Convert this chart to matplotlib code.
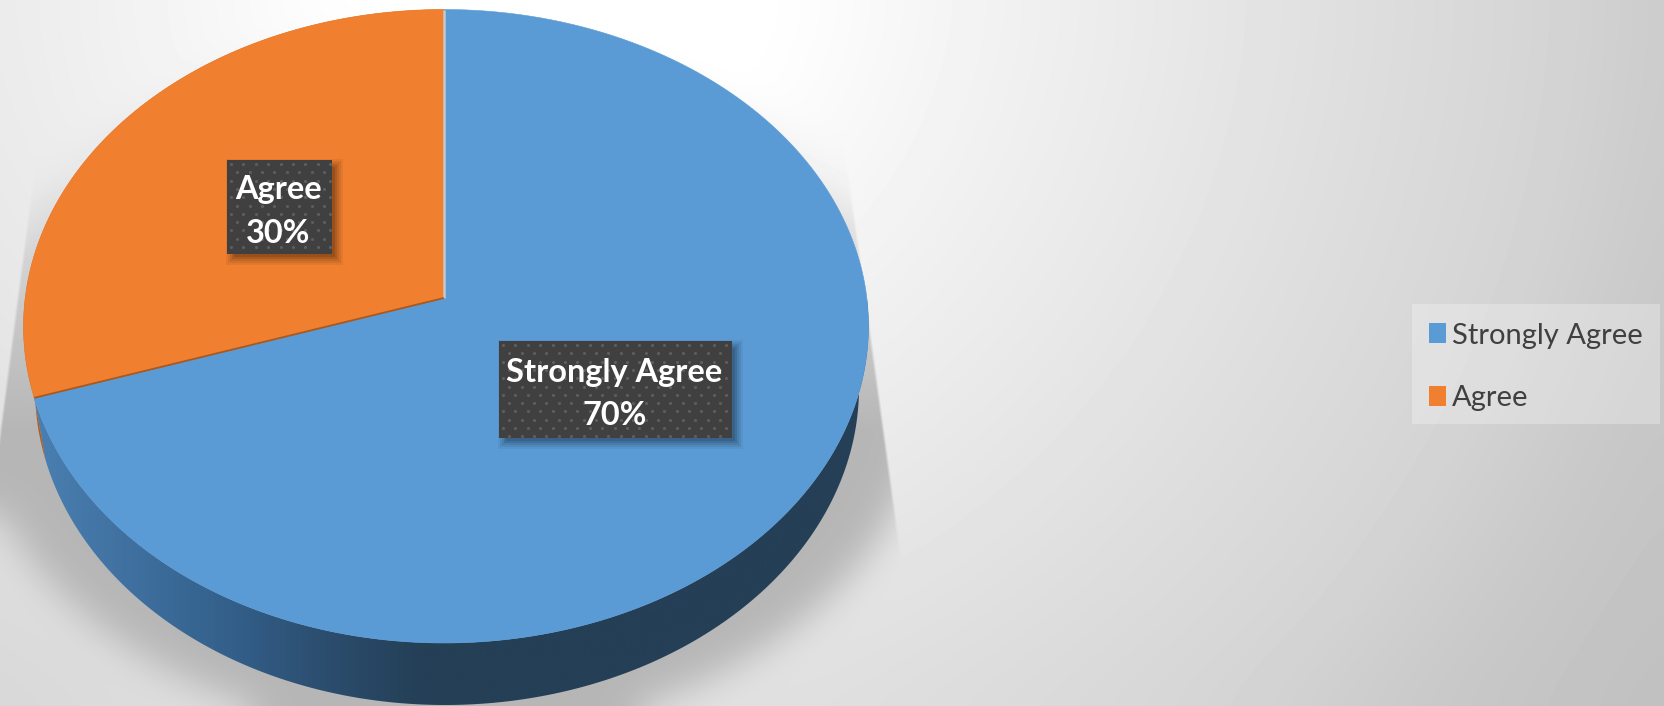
import numpy as np
import matplotlib
matplotlib.use("Agg")
import matplotlib.pyplot as plt
from matplotlib.patches import Polygon, Rectangle
from matplotlib.colors import LinearSegmentedColormap

# Survey responses
categories = ["Strongly Agree", "Agree"]
shares = [70, 30]
slice_colors = ["#5B9BD5", "#F07F30"]
seam_colors = ["#C9C9C9", "#A9581E"]

W, H = 1665, 706
plt.rcParams["font.family"] = ["Lato", "DejaVu Sans"]

fig = plt.figure(figsize=(W / 100, H / 100), dpi=100)
ax = fig.add_axes([0, 0, 1, 1])
ax.set_xlim(0, W)
ax.set_ylim(H, 0)
ax.axis("off")

yy, xx = np.mgrid[0:H, 0:W] + 0.5


def gaussian_blur(a, sigma):
    fy = np.fft.fftfreq(a.shape[0])[:, None]
    fx = np.fft.rfftfreq(a.shape[1])[None, :]
    kernel = np.exp(-2 * (np.pi * sigma) ** 2 * (fx ** 2 + fy ** 2))
    return np.fft.irfft2(np.fft.rfft2(a) * kernel, s=a.shape)


# Backdrop: radial gray falloff from a bright spot above the top edge
falloff_r = [0, 220, 430, 600, 800, 1000, 1150, 1340]
falloff_drop = [0, 0, 13, 22, 33, 43, 55, 64]
radius = np.hypot(xx - 560, yy + 40)
backdrop = 255.0 - np.interp(radius, falloff_r, falloff_drop)
pad = 80
backdrop = gaussian_blur(np.pad(backdrop, pad, mode="edge"), 30)[pad:-pad, pad:-pad]

# Cast shadow under the disc, cut off by two slanted edges and fading upward
blob = (((xx - 447) / 480) ** 2 + ((yy - 385) / 350) ** 2 < 1).astype(float)
blob = gaussian_blur(np.pad(blob, pad, mode="edge"), 18)[pad:-pad, pad:-pad]
right_cut = np.clip((853 + (yy - 210) * 0.137 - xx) / 3 + 0.5, 0, 1)
left_cut = np.clip((xx - (30 - (yy - 207) * 0.13)) / 3 + 0.5, 0, 1)
ramp = 0.15 + 0.85 * np.clip((yy - 170) / 260, 0, 1)
shade = blob * right_cut * left_cut * ramp
backdrop = backdrop * (1 - shade) + 0xB6 * shade
ax.imshow(backdrop, cmap="gray", vmin=0, vmax=255, extent=(0, W, H, 0),
          aspect="auto", interpolation="bilinear", zorder=0)
ax.set_xlim(0, W)
ax.set_ylim(H, 0)

# Tilted disc: a unit circle seen in perspective
APEX_X, APEX_Y = 444.0, 298.0
RISE, DROP = 288.5, 345.0
k = (DROP - RISE) / (DROP + RISE)
B = RISE * (1 + k)
A = 422.5 * np.sqrt(1 - k ** 2)


def on_disc(theta):
    c, s = np.cos(theta), np.sin(theta)
    w = 1 + k * s
    return APEX_X + A * c / w + 2 * c ** 2, APEX_Y - B * s / w


def on_base(x, y):
    return 447 + (x - 446) * 412 / 422.5, y + 62


def slice_arc(start, share):
    sweep = np.linspace(start, start + share / sum(shares) * 360, 300)
    return on_disc(np.radians(90 - sweep))


wall_cmap = LinearSegmentedColormap.from_list(
    "wall",
    [(0.0, "#4A80B2"), (0.12, "#3F709F"), (0.24, "#335F8A"), (0.36, "#2B4C6C"),
     (0.47, "#243F56"), (1.0, "#243F56")],
)

start = 0.0
arcs = []
for value in shares:
    arcs.append(slice_arc(start, value))
    start += value / sum(shares) * 360

# Side wall of each slice
for i, (x, y) in enumerate(arcs):
    bx, by = on_base(x, y)
    outline = np.column_stack([np.r_[x, bx[::-1]], np.r_[y, by[::-1]]])
    if i == 0:
        wall = Polygon(outline, closed=True, fc="none", ec="none", transform=ax.transData)
        ax.add_patch(wall)
        im = ax.imshow(np.linspace(0, 1, 512)[None, :], cmap=wall_cmap, vmin=0, vmax=1,
                       extent=(30, 870, 720, 300), aspect="auto", zorder=2)
        im.set_clip_path(wall)
    else:
        ax.add_patch(Polygon(outline, closed=True, fc="#B35A1B", ec="none", zorder=3))
ax.set_xlim(0, W)
ax.set_ylim(H, 0)

# Top faces and the seams between them
for (x, y), color in zip(arcs, slice_colors):
    ax.add_patch(Polygon(np.column_stack([np.r_[APEX_X, x], np.r_[APEX_Y, y]]), closed=True,
                         fc=color, ec=color, lw=0.4, zorder=4))
for (x, y), seam, width in zip(arcs, seam_colors, (1.8, 1.3)):
    ax.plot([APEX_X, x[0]], [APEX_Y, y[0]], color=seam, lw=width, zorder=5,
            solid_capstyle="butt")


def data_label(text, x0, y0, x1, y1):
    for grow, alpha in ((6, 0.05), (4, 0.07), (2, 0.08), (0, 0.10), (-2, 0.12)):
        ax.add_patch(Rectangle((x0 + 5 - grow, y0 + 5 - grow), x1 - x0 + 2 * grow,
                               y1 - y0 + 2 * grow, fc="black", alpha=alpha, ec="none", zorder=6))
    ax.add_patch(Rectangle((x0, y0), x1 - x0, y1 - y0, fc="#404040", ec="none", zorder=7))
    dot_x, dot_y = [], []
    for r, py in enumerate(np.arange(y0 + 4, y1, 8.3)):
        for px in np.arange(x0 + 4 + (r % 2) * 6.2, x1 - 1, 12.4):
            dot_x.append(px)
            dot_y.append(py)
    ax.scatter(dot_x, dot_y, s=5, marker="o", color="#5E5E5E", linewidths=0, zorder=8)
    ax.text((x0 + x1) / 2 - 1, (y0 + y1) / 2 + 4.5, text, color="white", fontsize=23.4,
            fontweight="bold", ha="center", va="center", linespacing=1.6, zorder=9)


boxes = [(499, 341, 732, 438), (227, 160, 332, 254)]
for name, value, box in zip(categories, shares, boxes):
    data_label(f"{name}\n{value}%", *box)

# Legend on a translucent panel
ax.add_patch(Rectangle((1412, 304), 248, 120, fc="white", alpha=0.27, ec="none", zorder=9))
handles = [Rectangle((0, 0), 1, 1, fc=c, ec="none") for c in slice_colors]
legend = ax.legend(
    handles, categories, loc="upper left", bbox_to_anchor=(1411, 304.5),
    bbox_transform=ax.transData, borderaxespad=0, fontsize=21, labelcolor="#404040",
    frameon=False, handlelength=0.57, handleheight=0.68, handletextpad=0.22,
    labelspacing=1.24, borderpad=0.62,
)
legend.set_zorder(10)

fig.savefig("out.png", dpi=100)
